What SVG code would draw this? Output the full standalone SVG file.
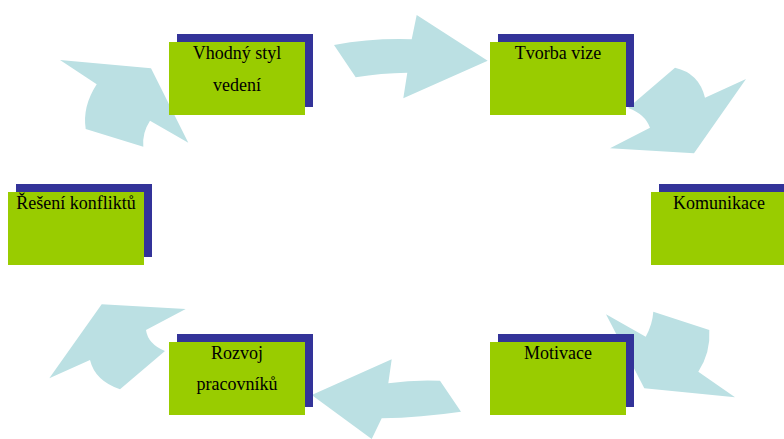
<svg xmlns="http://www.w3.org/2000/svg" width="784" height="439" viewBox="0 0 784 439">
<style>
.arrow{fill:#BBE0E3;stroke:none}
.shadow{fill:#333399}
.box{fill:#99CC00}
.lbl{font-family:"Liberation Serif","Times New Roman",serif;font-size:18px;fill:#000;text-anchor:middle}
</style>
<rect width="784" height="439" fill="#fff"/>
<g id="connectors">
<path class="arrow" d="M334,45 Q372,38 411.7,39.3 L416.7,15 L487.7,60.7 L403.3,98.3 L407.3,72.7 Q381,73 355.7,77.3 Z"/>
<path class="arrow" d="M675,67.7 Q699,73 705,97.7 L746,79 L694,153.3 L610,148.3 L650,127.7 Q645,114 628,108 Z"/>
<path class="arrow" d="M653.3,311.7 L709.3,330 Q710.8,352.5 698.3,371.7 L735,397.3 L644.3,388.3 L606,314.3 L645.7,336.7 Q652.5,324.4 653.3,311.7 Z"/>
<path class="arrow" d="M440,380.7 Q414,379.5 388.3,383.3 L391.7,359.3 L311.7,395 L371.7,439 L381.7,418.3 Q421,417.5 461,411.7 Z"/>
<path class="arrow" d="M101.7,304.3 L185.7,309 L146,330 Q147.9,344.1 165,351 L120,389.3 Q95,380.75 90,360 L49.3,378.3 Z"/>
<path class="arrow" d="M85.7,129 Q82.2,106.75 96.7,84.3 L60,60 L151,68.3 L188.3,142.7 L150,120.7 Q142,132.9 143.3,146.7 Z"/>
</g>
<g id="node-vhodny">
<rect class="shadow" x="177" y="34" width="136" height="73"/>
<rect class="box" x="169" y="42" width="136" height="73"/>
<text class="lbl" x="237" y="59">Vhodný styl</text>
<text class="lbl" x="237" y="90.5">vedení</text>
</g>
<g id="node-tvorba">
<rect class="shadow" x="498" y="34" width="136" height="73"/>
<rect class="box" x="490" y="42" width="136" height="73"/>
<text class="lbl" x="558" y="59">Tvorba vize</text>
</g>
<g id="node-komunikace">
<rect class="shadow" x="659" y="184" width="136" height="73"/>
<rect class="box" x="651" y="192" width="136" height="73"/>
<text class="lbl" x="719" y="209">Komunikace</text>
</g>
<g id="node-motivace">
<rect class="shadow" x="498" y="334" width="136" height="73"/>
<rect class="box" x="490" y="342" width="136" height="73"/>
<text class="lbl" x="558" y="359">Motivace</text>
</g>
<g id="node-rozvoj">
<rect class="shadow" x="177" y="334" width="136" height="73"/>
<rect class="box" x="169" y="342" width="136" height="73"/>
<text class="lbl" x="237" y="358.5">Rozvoj</text>
<text class="lbl" x="237" y="390">pracovníků</text>
</g>
<g id="node-reseni">
<rect class="shadow" x="16" y="184" width="136" height="73"/>
<rect class="box" x="8" y="192" width="136" height="73"/>
<text class="lbl" x="76" y="209">Řešení konfliktů</text>
</g>
</svg>
